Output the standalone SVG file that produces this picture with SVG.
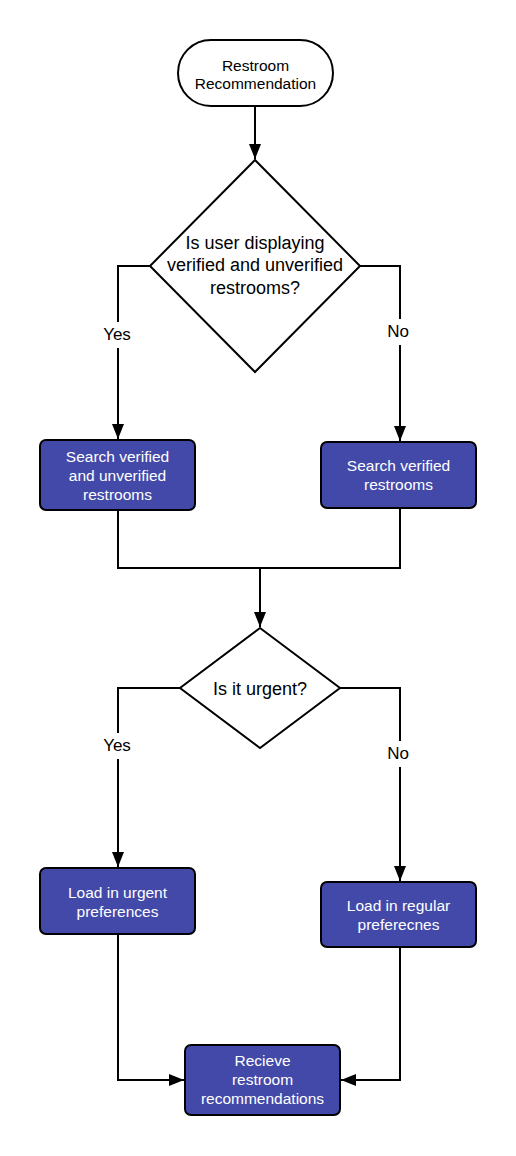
<svg xmlns="http://www.w3.org/2000/svg" width="516" height="1156" viewBox="0 0 516 1156">
<style>
.n{fill:#4349a9;stroke:#000;stroke-width:2}
.d{fill:#fff;stroke:#000;stroke-width:2}
.c{fill:none;stroke:#000;stroke-width:2}
.t{font-family:"Liberation Sans",Arial,sans-serif;font-size:15.5px;text-anchor:middle;fill:#fff}
.k{font-family:"Liberation Sans",Arial,sans-serif;text-anchor:middle;fill:#000}
.l{font-family:"Liberation Sans",Arial,sans-serif;font-size:17px;text-anchor:middle;fill:#000}
</style>
<defs>
<marker id="a" viewBox="0 0 15 12" refX="15" refY="6" markerWidth="7.5" markerHeight="6" markerUnits="strokeWidth" orient="auto">
<path d="M0,0 L15,6 L0,12 z" fill="#000"/>
</marker>
</defs>
<rect width="516" height="1156" fill="#fff"/>
<g id="connectors">
<path class="c" d="M255,106 V159" marker-end="url(#a)"/>
<path class="c" d="M150,266 H118 V439" marker-end="url(#a)"/>
<path class="c" d="M360,266 H400 V441" marker-end="url(#a)"/>
<path class="c" d="M118,510 V568 H400 V508"/>
<path class="c" d="M260,568 V627" marker-end="url(#a)"/>
<path class="c" d="M180,688 H118 V867" marker-end="url(#a)"/>
<path class="c" d="M340,688 H400 V881" marker-end="url(#a)"/>
<path class="c" d="M118,934 V1080 H184" marker-end="url(#a)"/>
<path class="c" d="M400,947 V1080 H341" marker-end="url(#a)"/>
<rect x="102" y="322" width="32" height="26" fill="#fff"/>
<text class="l" x="117" y="340">Yes</text>
<rect x="385" y="319" width="26" height="26" fill="#fff"/>
<text class="l" x="398" y="337">No</text>
<rect x="102" y="733" width="32" height="26" fill="#fff"/>
<text class="l" x="117" y="751">Yes</text>
<rect x="385" y="741" width="26" height="26" fill="#fff"/>
<text class="l" x="398" y="759">No</text>
</g>
<g id="start">
<rect class="d" x="178" y="40" width="155" height="66" rx="33"/>
<text class="k" font-size="15.5" x="255.500" y="70.500">Restroom</text>
<text class="k" font-size="15.5" x="255.500" y="88.500">Recommendation</text>
</g>
<g id="decision1">
<polygon class="d" points="255,160 360,266 255,372 150,266"/>
<text class="k" font-size="18" x="255" y="248.500">Is user displaying</text>
<text class="k" font-size="18" x="255" y="271">verified and unverified</text>
<text class="k" font-size="18" x="255" y="293.500">restrooms?</text>
</g>
<g id="search-both">
<rect class="n" x="40" y="440" width="155" height="70" rx="6"/>
<text class="t" x="117.500" y="461.500">Search verified</text>
<text class="t" x="117.500" y="480.500">and unverified</text>
<text class="t" x="117.500" y="499.500">restrooms</text>
</g>
<g id="search-verified">
<rect class="n" x="321" y="442" width="155" height="66" rx="6"/>
<text class="t" x="398.500" y="471">Search verified</text>
<text class="t" x="398.500" y="490">restrooms</text>
</g>
<g id="decision2">
<polygon class="d" points="260,628 340,688 260,748 180,688"/>
<text class="k" font-size="18" x="260" y="694.500">Is it urgent?</text>
</g>
<g id="urgent">
<rect class="n" x="40" y="868" width="155" height="66" rx="6"/>
<text class="t" x="117.500" y="898">Load in urgent</text>
<text class="t" x="117.500" y="917">preferences</text>
</g>
<g id="regular">
<rect class="n" x="321" y="882" width="155" height="65" rx="6"/>
<text class="t" x="398.500" y="911">Load in regular</text>
<text class="t" x="398.500" y="930">preferecnes</text>
</g>
<g id="receive">
<rect class="n" x="185" y="1045" width="155" height="70" rx="6"/>
<text class="t" x="262.500" y="1066">Recieve</text>
<text class="t" x="262.500" y="1085">restroom</text>
<text class="t" x="262.500" y="1104">recommendations</text>
</g>
</svg>
